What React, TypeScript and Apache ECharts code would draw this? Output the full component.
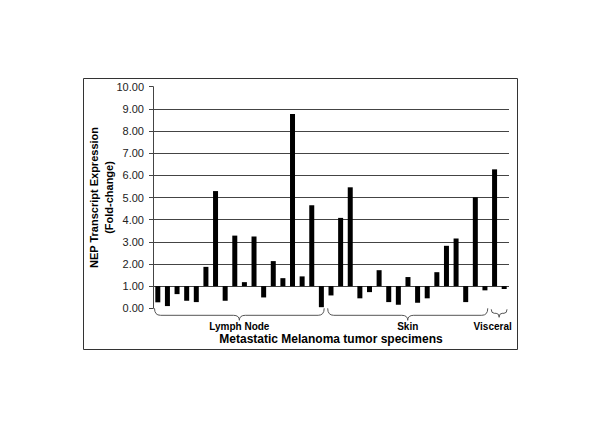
import React, { useEffect, useRef } from "react";
import * as echarts from "echarts";

const specimens = [
  "LN1", "LN2", "LN3", "LN4", "LN5", "LN6", "LN7", "LN8", "LN9", "LN10",
  "LN11", "LN12", "LN13", "LN14", "LN15", "LN16", "LN17", "LN18",
  "S1", "S2", "S3", "S4", "S5", "S6", "S7", "S8", "S9", "S10",
  "S11", "S12", "S13", "S14", "S15", "S16", "S17",
  "V1", "V2",
];
const lymphNodeValues = [0.27, 0.1, 0.64, 0.34, 0.28, 1.87, 5.29, 0.34, 3.28, 1.18, 3.24, 0.49, 2.13, 1.36, 8.77, 1.44, 4.65, 0.05];
const skinValues = [0.58, 4.08, 5.46, 0.45, 0.73, 1.72, 0.28, 0.16, 1.41, 0.25, 0.45, 1.63, 2.82, 3.15, 0.28, 5.01, 0.81];
const visceralValues = [6.27, 0.87];
const groupNames = ["Lymph Node", "Skin", "Visceral"];
const groupSizes = [lymphNodeValues.length, skinValues.length, visceralValues.length];
const baseline = 1;
const yMin = 0;
const yMax = 10;
const yInterval = 1;
const yAxisTitleLines = ["NEP Transcript Expression", "(Fold-change)"];
const xAxisTitle = "Metastatic Melanoma tumor specimens";

const FONT = "Arial, 'Liberation Sans', sans-serif";

export default function App() {
  const ref = useRef<HTMLDivElement>(null);
  useEffect(() => {
    if (!ref.current) return;
    const chart = echarts.init(ref.current, undefined, { renderer: "svg" });
    const values = [...lymphNodeValues, ...skinValues, ...visceralValues];
    const base = values.map((v) => Math.min(v, baseline));
    const delta = values.map((v) => Math.abs(v - baseline));
    chart.setOption({
      animation: false,
      backgroundColor: "#fff",
      grid: { left: 153, right: 91, top: 86.7, bottom: 112.7 },
      xAxis: {
        type: "category",
        data: specimens,
        boundaryGap: true,
        axisLine: { show: false },
        axisTick: { show: false },
        axisLabel: { show: false },
        splitLine: { show: false },
        name: xAxisTitle,
        nameLocation: "middle",
        nameGap: 25,
        nameTextStyle: { fontFamily: FONT, fontWeight: "bold", fontSize: 12, color: "#000" },
      },
      yAxis: {
        type: "value",
        min: yMin,
        max: yMax,
        interval: yInterval,
        axisLine: { show: true, lineStyle: { color: "#444", width: 1 } },
        axisTick: { show: true, inside: false, length: 4, lineStyle: { color: "#444" } },
        axisLabel: {
          margin: 9,
          fontFamily: FONT,
          fontSize: 11,
          color: "#222",
          formatter: (v: number) => v.toFixed(2),
        },
        splitLine: { show: true, showMinLine: false, showMaxLine: false, lineStyle: { color: "#444", width: 1 } },
      },
      series: [
        {
          type: "bar",
          stack: "fold",
          data: base,
          barWidth: 5,
          itemStyle: { color: "transparent" },
          emphasis: { disabled: true },
          silent: true,
        },
        {
          type: "bar",
          stack: "fold",
          data: delta,
          barWidth: 5,
          itemStyle: { color: "#000" },
          emphasis: { disabled: true },
        },
      ],
    });

    const cx = (i: number) => chart.convertToPixel({ xAxisIndex: 0 }, i) as number;
    const y0 = chart.convertToPixel({ yAxisIndex: 0 }, yMin) as number;
    const yTop = chart.convertToPixel({ yAxisIndex: 0 }, yMax) as number;
    const band = cx(1) - cx(0);
    const stroke = { stroke: "#555", lineWidth: 1, fill: "none" };
    const borderRight = 517.5;
    const elements: any[] = [
      {
        type: "rect",
        shape: { x: 83.5, y: 78.5, width: borderRight - 83.5, height: 271 },
        style: { stroke: "#333", lineWidth: 1, fill: "none" },
        silent: true,
      },
    ];
    yAxisTitleLines.forEach((t, i) => {
      elements.push({
        type: "text",
        x: 94 + i * 15,
        y: (y0 + yTop) / 2,
        rotation: Math.PI / 2,
        style: {
          text: t,
          fontFamily: FONT,
          fontWeight: "bold",
          fontSize: 11,
          fill: "#000",
          align: "center",
          verticalAlign: "middle",
        },
        silent: true,
      });
    });
    let start = 0;
    groupSizes.forEach((n, g) => {
      const end = start + n - 1;
      const x1 = cx(start) - band / 2 + 1.5;
      const x2 = cx(end) + band / 2 - 2;
      const xm = (x1 + x2) / 2;
      const small = x2 - x1 < 30;
      const top = y0 + (small ? 1 : 0);
      const y1 = y0 + (small ? 5 : 7);
      const y2 = y0 + (small ? 9 : 12);
      const r = small ? 3 : 6;
      const curve = (ax: number, ay: number, bx: number, by: number, cxp: number, cyp: number) => ({
        type: "bezierCurve",
        shape: { x1: ax, y1: ay, x2: bx, y2: by, cpx1: cxp, cpy1: cyp },
        style: stroke,
        silent: true,
      });
      const line = (ax: number, ay: number, bx: number, by: number) => ({
        type: "line",
        shape: { x1: ax, y1: ay, x2: bx, y2: by },
        style: stroke,
        silent: true,
      });
      const labelHalf = groupNames[g].length * 2.6;
      const lx = Math.min(xm, borderRight - 4 - labelHalf);
      elements.push(
        curve(x1, top, x1 + r, y1, x1, y1),
        line(x1 + r, y1, xm - r, y1),
        curve(xm - r, y1, xm, y2, xm, y1),
        curve(xm, y2, xm + r, y1, xm, y1),
        line(xm + r, y1, x2 - r, y1),
        curve(x2 - r, y1, x2, top, x2, y1),
        {
          type: "text",
          x: lx,
          y: y0 + 18,
          style: {
            text: groupNames[g],
            fontFamily: FONT,
            fontWeight: "bold",
            fontSize: 10,
            fill: "#000",
            align: "center",
            verticalAlign: "middle",
          },
          silent: true,
        }
      );
      start = end + 1;
    });
    chart.setOption({ graphic: { elements } });
    return () => chart.dispose();
  }, []);
  return (
    <div
      ref={ref}
      style={{ position: "fixed", left: 0, top: 0, width: 600, height: 421, background: "#fff" }}
    />
  );
}
